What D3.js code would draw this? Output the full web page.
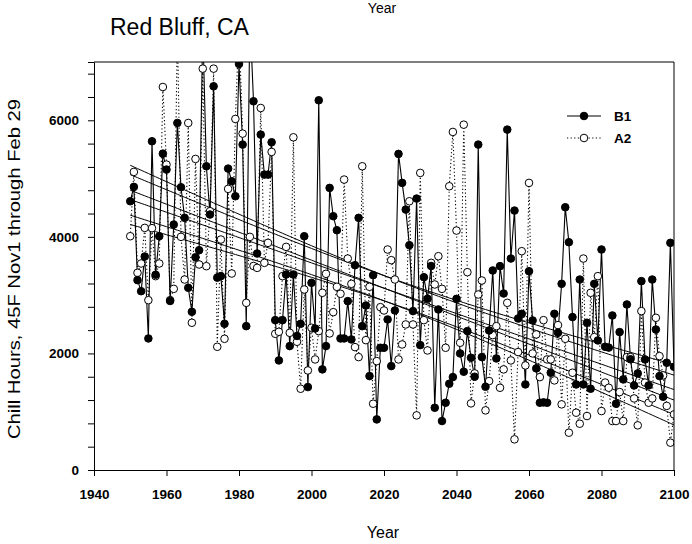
<!DOCTYPE html>
<html><head><meta charset="utf-8">
<script src="https://cdn.jsdelivr.net/npm/d3@7"></script>
<style>body{margin:0;background:#fff}svg{display:block}text{font-family:Arial,"Liberation Sans",sans-serif}</style>
</head><body>
<script>
const startYear = 1950;
const b1 = [4611,4857,3257,3068,3663,2257,5640,3350,4011,5428,
5154,2900,4211,5954,4851,4326,3126,2714,3651,3771,
7600,5211,4383,6583,3300,3326,2508,5171,4954,4697,
6966,5583,2468,7800,6326,3714,5754,5068,5068,5623,
2571,1880,2571,3354,2126,3354,2300,2508,4011,1423,
3211,2428,6343,1726,2126,4840,4354,4114,2257,2257,
2897,2240,3514,4326,2468,2823,1611,3343,868,2097,
2097,2583,1783,2737,5423,4926,4468,3857,2726,4657,
2143,3308,2937,3500,1068,2754,840,1154,1480,1594,
2937,2000,1686,2383,1926,1600,5583,1937,1428,2394,
3423,1914,3497,3028,5840,3628,4451,2600,2680,1468,
3411,2566,1743,1154,1160,1154,1669,2680,2354,3194,
4508,3908,2623,1468,3268,1468,2526,1394,3194,2223,
3783,2114,2100,2651,1137,2366,1554,2840,1900,1451,
1657,3240,1897,1451,3268,2411,1611,1257,1840,3897,
1771];
const a2 = [4011,5114,3383,3543,4154,2914,4149,3326,3543,6571,
5240,2914,3108,7600,4000,3268,5954,2526,5337,3526,
6886,3497,4440,6886,2114,3954,2251,4823,3371,6023,
7600,5771,2868,4000,3500,3468,6211,3554,3897,5457,
2337,2371,3326,3828,2354,5708,2200,1394,3097,1708,
2440,1897,2383,3040,3366,2343,2708,3143,3023,4983,
3628,3194,2108,1937,5211,2228,3143,1137,1868,2794,
2737,3783,3600,3268,1897,2154,2497,4611,2497,937,
5097,2571,2051,3554,3183,3668,3108,2097,4868,5800,
4108,2183,5925,3394,1143,1657,3011,3251,1023,1526,
2314,2468,1411,1726,2868,1880,526,2023,3754,1794,
4926,2000,2326,1594,2571,1897,1897,1537,2486,1126,
2251,640,1669,983,794,3628,926,3040,2280,3326,
1011,1500,1411,840,840,1337,840,1937,1937,1228,
766,2726,1500,1154,1228,2611,1954,1623,1100,469,
954];
// trend lines: fitted value at first / last year, and 95% band half-width at mid-period
const trendYears = [1950, 2100];
const trendB1 = [4640, 1380];
const trendA2 = [4800, 1200];
const bandHalfMid = [215, 215];
const xTicks = [1940,1960,1980,2000,2020,2040,2060,2080,2100];
const yTicks = [0,2000,4000,6000];
const seriesNames = ["B1","A2"];

const W = 692, H = 544;
const L = 94, R = 674, T = 62, B = 470;
const svg = d3.select("body").append("svg").attr("width", W).attr("height", H);
svg.append("rect").attr("width", W).attr("height", H).attr("fill", "#fff");

const x = d3.scaleLinear().domain([1940, 2100]).range([L, R]);
const y = d3.scaleLinear().domain([0, 7000]).range([B, T]);

svg.append("defs").append("clipPath").attr("id", "clip")
  .append("rect").attr("x", L).attr("y", T).attr("width", R - L).attr("height", B - T);

const mk = arr => arr.map((v, i) => ({year: startYear + i, v}));
const d1 = mk(b1), d2 = mk(a2);

const plot = svg.append("g").attr("clip-path", "url(#clip)");

// regression lines with 95% confidence bands
const line = d3.line().x(d => x(d[0])).y(d => y(d[1]));
const yrs = d3.range(trendYears[0], trendYears[1] + 1);
const mid = (trendYears[0] + trendYears[1]) / 2, half = (trendYears[1] - trendYears[0]) / 2;
const n = yrs.length;
const endRatio2 = n * half * half / d3.sum(yrs, v => (v - mid) ** 2);
[[trendB1, bandHalfMid[0]], [trendA2, bandHalfMid[1]]].forEach(([tr, hm]) => {
  const f = d3.scaleLinear().domain(trendYears).range(tr);
  const h = yr => hm * Math.sqrt(1 + endRatio2 * ((yr - mid) / half) ** 2);
  [0, 1, -1].forEach(k => {
    plot.append("path").attr("fill", "none").attr("stroke", "#000").attr("stroke-width", 1)
      .attr("d", line(yrs.map(yr => [yr, f(yr) + k * h(yr)])));
  });
});

const ln = d3.line().x(d => x(d.year)).y(d => y(d.v));
plot.append("path").datum(d2).attr("fill", "none").attr("stroke", "#000")
  .attr("stroke-width", 1.1).attr("stroke-dasharray", "1.2,2.4").attr("d", ln);
plot.append("path").datum(d1).attr("fill", "none").attr("stroke", "#000")
  .attr("stroke-width", 1.1).attr("d", ln);

plot.append("g").selectAll("circle").data(d2).join("circle")
  .attr("cx", d => x(d.year)).attr("cy", d => y(d.v)).attr("r", 3.8)
  .attr("fill", "#fff").attr("stroke", "#000").attr("stroke-width", 1);
plot.append("g").selectAll("circle").data(d1).join("circle")
  .attr("cx", d => x(d.year)).attr("cy", d => y(d.v)).attr("r", 3.8)
  .attr("fill", "#000").attr("stroke", "#000").attr("stroke-width", 1);

// frame
svg.append("line").attr("x1", L).attr("x2", R).attr("y1", T).attr("y2", T).attr("stroke", "#000");
svg.append("line").attr("x1", R).attr("x2", R).attr("y1", T).attr("y2", B).attr("stroke", "#000");

// axes
const xAxis = svg.append("g").attr("transform", `translate(0,${B})`)
  .call(d3.axisBottom(x).tickValues(xTicks).tickFormat(d3.format("d")).tickSize(6).tickPadding(13));
const yAxis = svg.append("g").attr("transform", `translate(${L},0)`)
  .call(d3.axisLeft(y).tickValues(d3.range(0, 7000, 400)).tickSize(6).tickPadding(9)
    .tickFormat(d => yTicks.includes(d) ? d : ""));
[xAxis, yAxis].forEach(g => {
  g.select(".domain").attr("stroke", "#000");
  g.selectAll("line").attr("stroke", "#000");
  g.selectAll("text").attr("font-size", 13.5).attr("font-weight", "bold").attr("fill", "#000")
    .style("font-family", "Arial, 'Liberation Sans', sans-serif");
});

// titles
svg.append("text").attr("x", 110).attr("y", 35).attr("font-size", 23).text("Red Bluff, CA");
svg.append("text").attr("x", 382).attr("y", 13).attr("font-size", 14).attr("text-anchor", "middle").text("Year");
svg.append("text").attr("x", 383).attr("y", 538).attr("font-size", 16).attr("text-anchor", "middle").text("Year");
svg.append("text").attr("transform", `translate(20,${(T + B) / 2 + 3}) rotate(-90)`)
  .attr("font-size", 16).attr("text-anchor", "middle")
  .attr("textLength", 340).attr("lengthAdjust", "spacingAndGlyphs")
  .text("Chill Hours, 45F Nov1 through Feb 29");

// legend
const leg = svg.append("g");
[[seriesNames[0], 116, false], [seriesNames[1], 138, true]].forEach(([name, ly, open]) => {
  leg.append("line").attr("x1", 567).attr("x2", 601).attr("y1", ly).attr("y2", ly)
    .attr("stroke", "#000").attr("stroke-width", 1.1).attr("stroke-dasharray", open ? "1.2,2.4" : null);
  leg.append("circle").attr("cx", 584).attr("cy", ly).attr("r", 3.8)
    .attr("fill", open ? "#fff" : "#000").attr("stroke", "#000");
  leg.append("text").attr("x", 614).attr("y", ly + 5).attr("font-size", 13.5).attr("font-weight", "bold").text(name);
});
</script>
</body></html>
